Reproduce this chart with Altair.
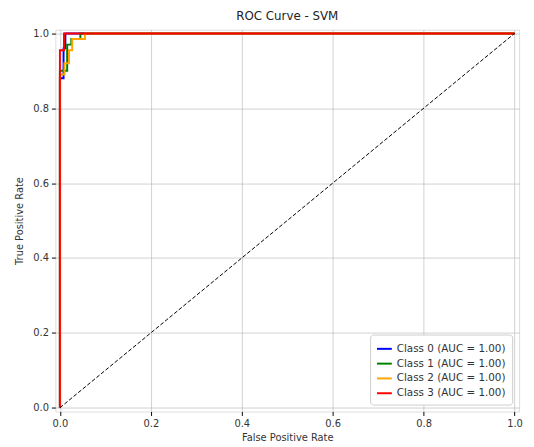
import altair as alt
import pandas as pd

classes = ["Class 0 (AUC = 1.00)", "Class 1 (AUC = 1.00)", "Class 2 (AUC = 1.00)", "Class 3 (AUC = 1.00)"]
colors = ["blue", "green", "orange", "red"]

fpr0 = [0, 0, 0.008, 0.008, 0.012, 0.012, 1]
tpr0 = [0, 0.88, 0.88, 0.96, 0.96, 1.0, 1.0]
fpr1 = [0, 0, 0.016, 0.016, 0.025, 0.025, 0.045, 0.045, 1]
tpr1 = [0, 0.90, 0.90, 0.97, 0.97, 0.985, 0.985, 1.0, 1.0]
fpr2 = [0, 0, 0.01, 0.01, 0.02, 0.02, 0.027, 0.027, 0.055, 0.055, 1]
tpr2 = [0, 0.89, 0.89, 0.92, 0.92, 0.955, 0.955, 0.985, 0.985, 1.0, 1.0]
fpr3 = [0, 0, 0.009, 0.009, 1]
tpr3 = [0, 0.955, 0.955, 1.0, 1.0]

diag_x = [0, 1]
diag_y = [0, 1]
ticks = [0.0, 0.2, 0.4, 0.6, 0.8, 1.0]

rows = []
for name, fx, ty in zip(classes, [fpr0, fpr1, fpr2, fpr3], [tpr0, tpr1, tpr2, tpr3]):
    for i, (a, b) in enumerate(zip(fx, ty)):
        rows.append({"cls": name, "fpr": a, "tpr": b, "i": i})
df = pd.DataFrame(rows)
ddf = pd.DataFrame({"fpr": diag_x, "tpr": diag_y})

xs = alt.Scale(domain=[-0.01, 1.01], nice=False, zero=False)
ys = alt.Scale(domain=[-0.01, 1.01], nice=False, zero=False)

xaxis = alt.Axis(values=ticks, format=".1f", title="False Positive Rate", grid=True,
                 gridColor="#b0b0b0", gridOpacity=0.6, tickColor="#000", tickSize=4,
                 domain=False, labelFontSize=10, titleFontSize=10, titleFontWeight="normal",
                 labelColor="#333", titleColor="#333", labelPadding=3, titlePadding=4)
yaxis = alt.Axis(values=ticks, format=".1f", title="True Positive Rate", grid=True,
                 gridColor="#b0b0b0", gridOpacity=0.6, tickColor="#000", tickSize=4,
                 domain=False, labelFontSize=10, titleFontSize=10, titleFontWeight="normal",
                 labelColor="#333", titleColor="#333", labelPadding=3, titlePadding=8)

lines = alt.Chart(df).mark_line(strokeWidth=2, interpolate="linear", clip=True).encode(
    x=alt.X("fpr:Q", scale=xs, axis=xaxis),
    y=alt.Y("tpr:Q", scale=ys, axis=yaxis),
    color=alt.Color("cls:N", scale=alt.Scale(domain=classes, range=colors),
                    legend=alt.Legend(title=None, orient="bottom-right", offset=7,
                                      symbolType="stroke", symbolStrokeWidth=2, symbolSize=225,
                                      labelFontSize=10.5, labelColor="#333",
                                      strokeColor="#ccc", fillColor="white", padding=6,
                                      cornerRadius=3, rowPadding=1)),
    order="i:Q",
)

diag = alt.Chart(ddf).mark_line(color="black", strokeWidth=1, strokeDash=[4, 2]).encode(
    x=alt.X("fpr:Q", scale=xs),
    y=alt.Y("tpr:Q", scale=ys),
)

chart = alt.layer(lines, diag).properties(
    width=470, height=387,
    title=alt.TitleParams("ROC Curve - SVM", fontSize=12, fontWeight="normal", color="#222", offset=6),
    autosize=alt.AutoSizeParams(type="none"),
    padding={"left": 48, "top": 19, "right": 7, "bottom": 30},
).configure_view(stroke="black", strokeWidth=1).configure(font="DejaVu Sans")

chart.save("out.html", embed_options={"renderer": "svg", "actions": False})
